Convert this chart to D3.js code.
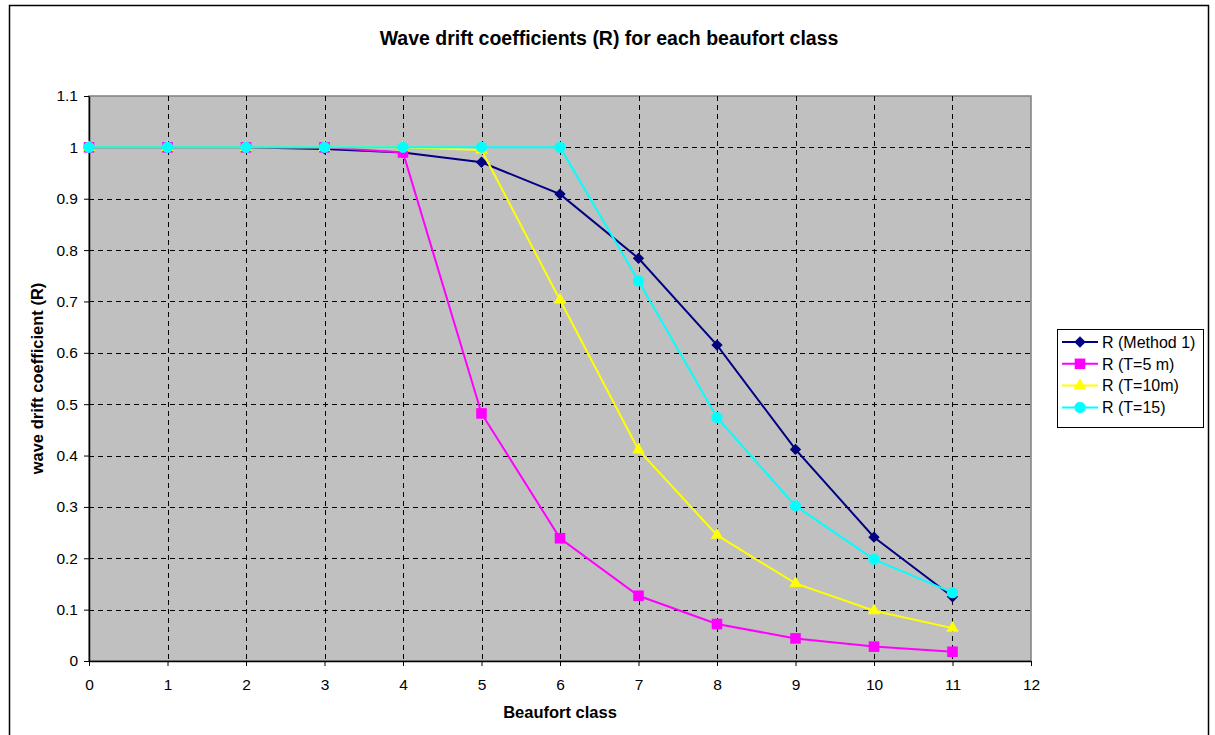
<!DOCTYPE html>
<html>
<head>
<meta charset="utf-8">
<script src="https://cdn.jsdelivr.net/npm/d3@7"></script>
<style>
  body { margin: 0; background: #fff; }
  text { font-family: "Liberation Sans", Arial, sans-serif; }
</style>
</head>
<body>
<div id="chart"></div>
<script>
// beaufort classes
var klassen = [0, 1, 2, 3, 4, 5, 6, 7, 8, 9, 10, 11];
// wave drift coefficients per series
var rMethod1 = [1, 1, 1, 0.997, 0.99, 0.971, 0.909, 0.784, 0.615, 0.412, 0.241, 0.125];
var rT5 = [1, 1, 1, 1, 0.99, 0.482, 0.239, 0.127, 0.072, 0.044, 0.028, 0.018];
var rT10 = [1, 1, 1, 1, 1, 0.995, 0.703, 0.411, 0.245, 0.151, 0.098, 0.064];
var rT15 = [1, 1, 1, 1, 1, 1, 1, 0.74, 0.474, 0.302, 0.198, 0.133];
var serienNamen = ["R (Method 1)", "R (T=5 m)", "R (T=10m)", "R (T=15)"];
var xTicks = [0, 1, 2, 3, 4, 5, 6, 7, 8, 9, 10, 11, 12];
var yTicks = [0, 0.1, 0.2, 0.3, 0.4, 0.5, 0.6, 0.7, 0.8, 0.9, 1, 1.1];

// Raute wie in Excel (auf die Spitze gestelltes Quadrat)
var raute = {
    draw: function (ctx, size) {
        var r = Math.sqrt(size / 2);
        ctx.moveTo(0, -r);
        ctx.lineTo(r, 0);
        ctx.lineTo(0, r);
        ctx.lineTo(-r, 0);
        ctx.closePath();
    }
};

var serien = [
    { name: serienNamen[0], werte: rMethod1, farbe: "#000080", symbol: raute, groesse: 64 },
    { name: serienNamen[1], werte: rT5, farbe: "#ff00ff", symbol: d3.symbolSquare, groesse: 112 },
    { name: serienNamen[2], werte: rT10, farbe: "#ffff00", symbol: d3.symbolTriangle, groesse: 68 },
    { name: serienNamen[3], werte: rT15, farbe: "#00ffff", symbol: d3.symbolCircle, groesse: 100 }
];

var width = 1215;
var height = 735;
var plot = { left: 89, top: 96, right: 1031, bottom: 661 };

var svg = d3.select("#chart")
    .append("svg")
    .attr("width", width)
    .attr("height", height);

// outer chart frame
svg.append("rect")
    .attr("x", 9.5)
    .attr("y", 5.5)
    .attr("width", 1199)
    .attr("height", 760)
    .attr("fill", "#fff")
    .attr("stroke", "#000")
    .attr("stroke-width", 1.5);

var x = d3.scaleLinear().domain([0, 12]).range([plot.left, plot.right]);
var y = d3.scaleLinear().domain([0, 1.1]).range([plot.bottom, plot.top]);

// plot area
svg.append("rect")
    .attr("x", plot.left)
    .attr("y", plot.top)
    .attr("width", plot.right - plot.left)
    .attr("height", plot.bottom - plot.top)
    .attr("fill", "#c0c0c0")
    .attr("stroke", "#808080")
    .attr("stroke-width", 1.5);

// grid lines
svg.append("g")
    .selectAll("line")
    .data(yTicks.filter(d => d > 0 && d < 1.1))
    .enter()
    .append("line")
    .attr("x1", plot.left)
    .attr("x2", plot.right)
    .attr("y1", d => Math.round(y(d)) + 0.5)
    .attr("y2", d => Math.round(y(d)) + 0.5)
    .style("stroke", "#000")
    .style("stroke-dasharray", "5,4")
    .style("stroke-width", 1);

svg.append("g")
    .selectAll("line")
    .data(xTicks.filter(d => d > 0 && d < 12))
    .enter()
    .append("line")
    .attr("y1", plot.top)
    .attr("y2", plot.bottom)
    .attr("x1", d => Math.round(x(d)) + 0.5)
    .attr("x2", d => Math.round(x(d)) + 0.5)
    .style("stroke", "#000")
    .style("stroke-dasharray", "5,4")
    .style("stroke-width", 1);

// axes
var xAchse = svg.append("g")
    .attr("transform", "translate(0," + plot.bottom + ")")
    .call(d3.axisBottom(x).tickValues(xTicks).tickSize(5).tickSizeOuter(0).tickFormat(d3.format("d")));
var yAchse = svg.append("g")
    .attr("transform", "translate(" + plot.left + ",0)")
    .call(d3.axisLeft(y).tickValues(yTicks).tickSize(5).tickSizeOuter(0).tickFormat(d => d3.format("~g")(d)));

[xAchse, yAchse].forEach(function (a) {
    a.selectAll("path").attr("stroke", "#000").attr("stroke-width", 1.5);
    a.selectAll("line").attr("stroke", "#000");
    a.selectAll("text")
        .attr("fill", "#000")
        .style("font-size", "15.5px")
        .style("font-family", "'Liberation Sans', Arial, sans-serif");
});
xAchse.selectAll("text").attr("y", 29).attr("dy", 0);
yAchse.selectAll("text").attr("x", -11);

// series lines and markers
var linie = d3.line()
    .x((d, i) => x(klassen[i]))
    .y(d => y(d));

serien.forEach(function (s) {
    svg.append("path")
        .datum(s.werte)
        .attr("d", linie)
        .attr("fill", "none")
        .attr("stroke", s.farbe)
        .attr("stroke-width", 2);
    svg.append("g")
        .selectAll("path")
        .data(s.werte)
        .enter()
        .append("path")
        .attr("transform", (d, i) => "translate(" + x(klassen[i]) + "," + y(d) + ")")
        .attr("d", d3.symbol().type(s.symbol).size(s.groesse))
        .attr("fill", s.farbe);
});

// titles
svg.append("text")
    .attr("x", 609)
    .attr("y", 45)
    .attr("text-anchor", "middle")
    .style("font-size", "19.5px")
    .style("font-weight", "bold")
    .text("Wave drift coefficients (R) for each beaufort class");

svg.append("text")
    .attr("x", (plot.left + plot.right) / 2)
    .attr("y", 718)
    .attr("text-anchor", "middle")
    .style("font-size", "16.5px")
    .style("font-weight", "bold")
    .text("Beaufort class");

svg.append("text")
    .attr("transform", "translate(43," + (plot.top + plot.bottom) / 2 + ") rotate(-90)")
    .attr("text-anchor", "middle")
    .style("font-size", "16.5px")
    .style("font-weight", "bold")
    .text("wave drift coefficient (R)");

// legend
var legende = svg.append("g");
legende.append("rect")
    .attr("x", 1057.5)
    .attr("y", 329.5)
    .attr("width", 146)
    .attr("height", 98)
    .attr("fill", "#fff")
    .attr("stroke", "#000")
    .attr("stroke-width", 1);

var eintrag = legende.selectAll("g.eintrag")
    .data(serien)
    .enter()
    .append("g")
    .attr("transform", (d, i) => "translate(0," + (342 + i * 21.8) + ")");
eintrag.append("line")
    .attr("x1", 1062)
    .attr("x2", 1098)
    .attr("stroke", d => d.farbe)
    .attr("stroke-width", 2);
eintrag.append("path")
    .attr("transform", "translate(1080,0)")
    .attr("d", d => d3.symbol().type(d.symbol).size(d.groesse)())
    .attr("fill", d => d.farbe);
eintrag.append("text")
    .attr("x", 1102)
    .attr("dy", "0.36em")
    .style("font-size", "16px")
    .text(d => d.name);
</script>
</body>
</html>
